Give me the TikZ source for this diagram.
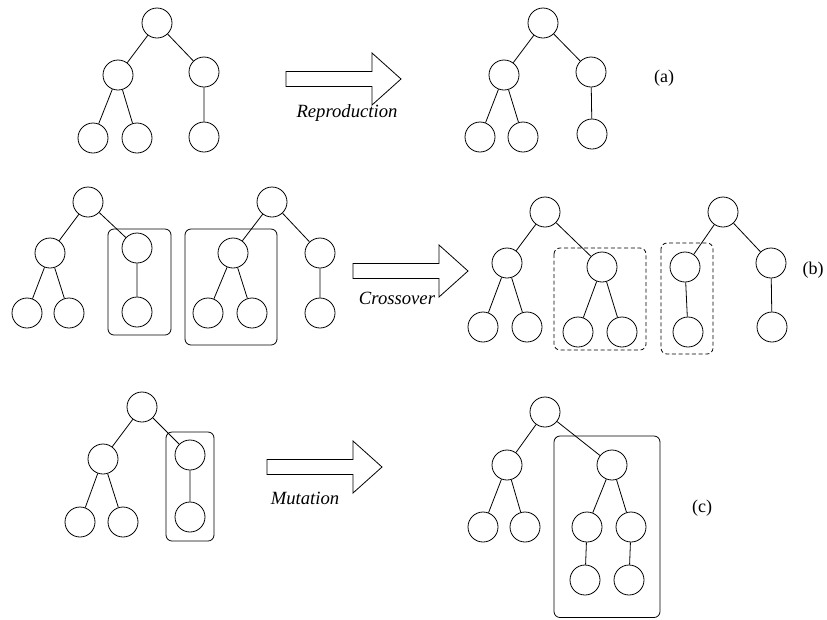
\documentclass[tikz,border=0pt]{standalone}
\usepackage{fontspec}
\setmainfont{Liberation Serif}
\usepackage{tikz}
\usetikzlibrary{positioning}
\tikzset{
  vertex/.style={draw, circle, minimum size=22.5pt, inner sep=0pt, line width=0.6pt},
  edge/.style={line width=0.6pt},
  subbox/.style={draw, rounded corners=4.5pt, line width=0.6pt},
  swapbox/.style={draw, rounded corners=4.5pt, line width=0.6pt, dash pattern=on 3pt off 2pt},
  oplabel/.style={font=\fontsize{14}{16}\selectfont\itshape, inner sep=0pt},
  caselabel/.style={font=\fontsize{13.5}{16}\selectfont, inner sep=0pt},
  fatarrow/.pic={\draw[line width=0.6pt] (0,-7.5) -- (86,-7.5) -- (86,-26) -- (115,0) -- (86,26) -- (86,7.5) -- (0,7.5) -- cycle;}
}

\begin{document}
\begin{tikzpicture}[x=0.75pt, y=-0.75pt]
    \useasboundingbox (0,0) rectangle (827,619);
    % (a) reproduction
    \node[vertex] (pa0) at (157,23) {};
    \node[vertex] (pa1) at (118,75) {};
    \node[vertex] (pa2) at (204,72) {};
    \node[vertex] (pa11) at (93,138) {};
    \node[vertex] (pa12) at (137,138) {};
    \node[vertex] (pa21) at (204,137) {};
    \draw[edge] (pa0) -- (pa1) (pa0) -- (pa2) (pa1) -- (pa11) (pa1) -- (pa12) (pa2) -- (pa21);
    \pic at (286,79) {fatarrow};
    \node[oplabel] (reprod) at (347,113) {Reproduction};
    \node[vertex] (ca0) at (543,23) {};
    \node[vertex] (ca1) at (504,75) {};
    \node[vertex] (ca2) at (591,72) {};
    \node[vertex] (ca11) at (480,137) {};
    \node[vertex] (ca12) at (523,137) {};
    \node[vertex] (ca21) at (592,134) {};
    \draw[edge] (ca0) -- (ca1) (ca0) -- (ca2) (ca1) -- (ca11) (ca1) -- (ca12) (ca2) -- (ca21);
    \node[caselabel] (laba) at (664,78) {(a)};

    % (b) crossover
    \node[vertex] (pb0) at (88,202) {};
    \node[vertex] (pb1) at (50,253) {};
    \node[vertex] (pb2) at (137,248) {};
    \node[vertex] (pb11) at (27,313) {};
    \node[vertex] (pb12) at (69,313) {};
    \node[vertex] (pb21) at (137,312) {};
    \draw[edge] (pb0) -- (pb1) (pb0) -- (pb2) (pb1) -- (pb11) (pb1) -- (pb12) (pb2) -- (pb21);
    \draw[subbox] (108,229) rectangle (171,335);
    \node[vertex] (qb0) at (272,202) {};
    \node[vertex] (qb1) at (233,253) {};
    \node[vertex] (qb2) at (320,253) {};
    \node[vertex] (qb11) at (208,313) {};
    \node[vertex] (qb12) at (252,313) {};
    \node[vertex] (qb21) at (320,313) {};
    \draw[edge] (qb0) -- (qb1) (qb0) -- (qb2) (qb1) -- (qb11) (qb1) -- (qb12) (qb2) -- (qb21);
    \draw[subbox] (185,229) rectangle (277,345);
    \pic at (353,271) {fatarrow};
    \node[oplabel] (cross) at (397,298) {Crossover};
    \node[vertex] (cb0) at (545,212) {};
    \node[vertex] (cb1) at (507,263) {};
    \node[vertex] (cb2) at (602,267) {};
    \node[vertex] (cb11) at (483,327) {};
    \node[vertex] (cb12) at (527,327) {};
    \node[vertex] (cb21) at (578,332) {};
    \node[vertex] (cb22) at (622,332) {};
    \draw[edge] (cb0) -- (cb1) (cb0) -- (cb2) (cb1) -- (cb11) (cb1) -- (cb12) (cb2) -- (cb21) (cb2) -- (cb22);
    \draw[swapbox] (554,248) rectangle (646,350);
    \node[vertex] (db0) at (723,212) {};
    \node[vertex] (db1) at (685,267) {};
    \node[vertex] (db2) at (771,263) {};
    \node[vertex] (db11) at (688,332) {};
    \node[vertex] (db21) at (772,327) {};
    \draw[edge] (db0) -- (db1) (db0) -- (db2) (db1) -- (db11) (db2) -- (db21);
    \draw[swapbox] (661,243) rectangle (713,354);
    \node[caselabel] (labb) at (813,270) {(b)};

    % (c) mutation
    \node[vertex] (pc0) at (142,407) {};
    \node[vertex] (pc1) at (103,459) {};
    \node[vertex] (pc2) at (190,455) {};
    \node[vertex] (pc11) at (80,522) {};
    \node[vertex] (pc12) at (123,522) {};
    \node[vertex] (pc21) at (190,517) {};
    \draw[edge] (pc0) -- (pc1) (pc0) -- (pc2) (pc1) -- (pc11) (pc1) -- (pc12) (pc2) -- (pc21);
    \draw[subbox] (166,432) rectangle (214,541);
    \pic at (267,467) {fatarrow};
    \node[oplabel] (mutat) at (305,498) {Mutation};
    \node[vertex] (cc0) at (545,412) {};
    \node[vertex] (cc1) at (507,465) {};
    \node[vertex] (cc2) at (612,465) {};
    \node[vertex] (cc11) at (483,527) {};
    \node[vertex] (cc12) at (525,527) {};
    \node[vertex] (cc21) at (587,527) {};
    \node[vertex] (cc22) at (631,527) {};
    \node[vertex] (cc211) at (585,580) {};
    \node[vertex] (cc221) at (629,580) {};
    \draw[edge] (cc0) -- (cc1) (cc0) -- (cc2) (cc1) -- (cc11) (cc1) -- (cc12) (cc2) -- (cc21) (cc2) -- (cc22)
        (cc21) -- (cc211) (cc22) -- (cc221);
    \draw[subbox] (554,436) rectangle (660,617.5);
    \node[caselabel] (labc) at (702,508) {(c)};
\end{tikzpicture}
\end{document}
